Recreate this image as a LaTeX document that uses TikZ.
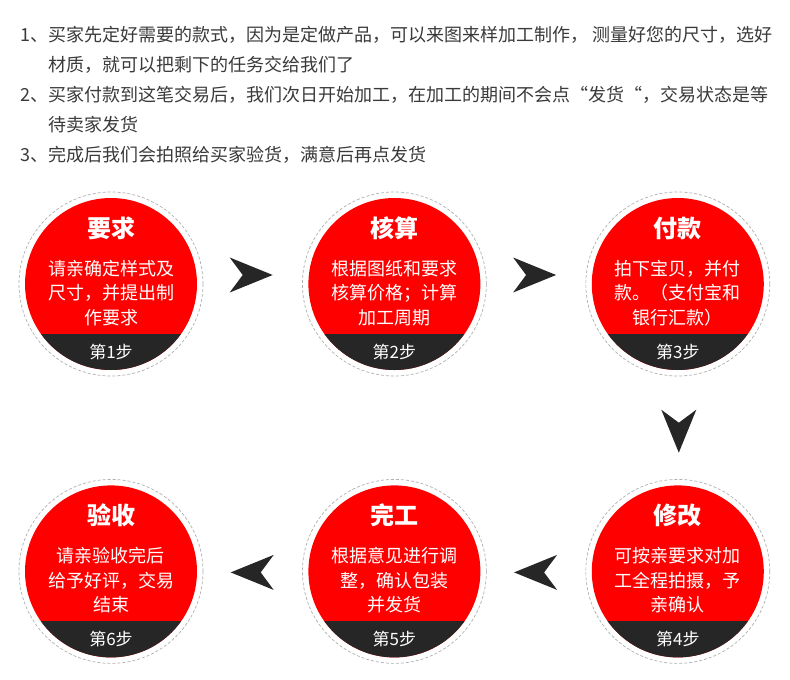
\documentclass[tikz,border=0pt]{standalone}
\usepackage{fontspec}
\newfontfamily\cjk{Noto Sans CJK SC}
\usetikzlibrary{positioning,calc}

\definecolor{stepred}{HTML}{FF0000}
\definecolor{banddark}{HTML}{262626}
\definecolor{ringgrey}{HTML}{B0B0B0}
\definecolor{notegrey}{HTML}{3A3A3A}

\tikzset{
    pics/chev/.style={code={\fill[banddark] (22,0) -- (-21,-17.5) -- (-8,0) -- (-21,17.5) -- cycle;}}
}

\begin{document}
\begin{tikzpicture}[
    x=1pt, y=-1pt,
    disc/.style={circle, fill=stepred, minimum size=172pt, inner sep=0pt},
    ring/.style={circle, draw=ringgrey, dash pattern=on 3pt off 2pt, line width=0.7pt, minimum size=184pt, inner sep=0pt},
    title/.style={font=\cjk\fontsize{24}{24}\selectfont\bfseries, text=white},
    body/.style={font=\cjk\fontsize{18}{24.5}\selectfont, text=white, align=center},
    steplabel/.style={font=\cjk\fontsize{17}{17}\selectfont, text=white},
    note/.style={font=\cjk\fontsize{18}{18}\selectfont, text=notegrey, anchor=west, inner sep=0pt}
]
    \useasboundingbox[fill=white] (0,0) rectangle (790,680);

    % notes on top
    \node [note] (n1) at (20,35) {1、买家先定好需要的款式，因为是定做产品，可以来图来样加工制作， 测量好您的尺寸，选好};
    \node [note] (n1b) at (48,65) {材质，就可以把剩下的任务交给我们了};
    \node [note] (n2) at (20,95) {2、买家付款到这笔交易后，我们次日开始加工，在加工的期间不会点“发货“，交易状态是等};
    \node [note] (n2b) at (48,125) {待卖家发货};
    \node [note] (n3) at (20,155) {3、完成后我们会拍照给买家验货，满意后再点发货};

    % the six steps
    \node [disc] (s1) at (111,284) {};
    \node [disc, right=111pt of s1] (s2) {};
    \node [disc, right=111pt of s2] (s3) {};
    \node [disc, below=115pt of s3] (s4) {};
    \node [disc, left=111pt of s4] (s5) {};
    \node [disc, left=111pt of s5] (s6) {};

    \foreach \s/\ttl/\txt/\num in {
        s1/要求/{请亲确定样式及\\尺寸，并提出制\\作要求}/1,
        s2/核算/{根据图纸和要求\\核算价格；计算\\加工周期}/2,
        s3/付款/{拍下宝贝，并付\\款。（支付宝和\\银行汇款）}/3,
        s4/修改/{可按亲要求对加\\工全程拍摄，予\\亲确认}/4,
        s5/完工/{根据意见进行调\\整，确认包装\\并发货}/5,
        s6/验收/{请亲验收完后\\给予好评，交易\\结束}/6} {
        \node [ring] at (\s) {};
        \begin{scope}
            \clip (\s) circle [radius=86pt];
            \fill [banddark] ($(\s)+(-90,50)$) rectangle ($(\s)+(90,95)$);
        \end{scope}
        \node [title] at ($(\s)+(0,-56)$) {\ttl};
        \node [body] at ($(\s)+(0,9)$) {\txt};
        \node [steplabel] at ($(\s)+(0,68)$) {第\num 步};
    }

    % arrows between steps
    \pic at ($(s1)!0.5!(s2)+(-2,-9)$) {chev};
    \pic at ($(s2)!0.5!(s3)+(-2,-9)$) {chev};
    \pic [rotate=-90] at ($(s3)!0.5!(s4)+(1,3)$) {chev};
    \pic [rotate=180] at ($(s4)!0.5!(s5)+(0,1)$) {chev};
    \pic [rotate=180] at ($(s5)!0.5!(s6)+(0,1)$) {chev};
\end{tikzpicture}
\end{document}
